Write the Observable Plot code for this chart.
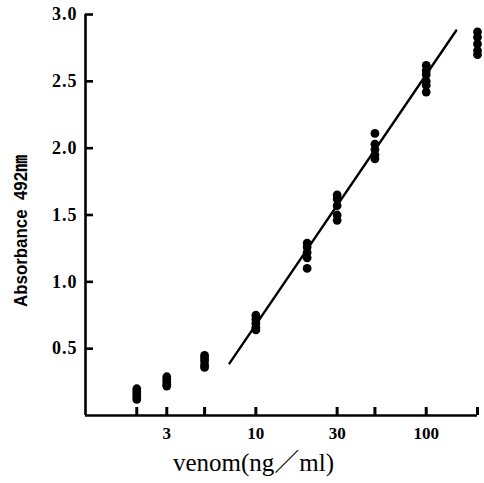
<!DOCTYPE html>
<html>
<head>
<meta charset="utf-8">
<script src="https://cdn.jsdelivr.net/npm/d3@7"></script>
<script src="https://cdn.jsdelivr.net/npm/@observablehq/plot@0.6"></script>
<style>
  html, body { margin: 0; padding: 0; background: #fff; }
  #chart svg { display: block; }
  .ticklab text { letter-spacing: 1px; }
</style>
</head>
<body>
<div id="chart"></div>
<script>
// venom concentration (ng/ml) for each replicate group
const concentrations = [2, 3, 5, 10, 20, 30, 50, 100, 200];
// absorbance readings at 492 nm, one list per concentration
const readings = [
  [0.20, 0.18, 0.16, 0.14, 0.12],
  [0.29, 0.27, 0.25, 0.23, 0.22],
  [0.45, 0.43, 0.41, 0.38, 0.36],
  [0.75, 0.72, 0.69, 0.66, 0.64],
  [1.29, 1.26, 1.22, 1.18, 1.10],
  [1.65, 1.62, 1.57, 1.50, 1.46],
  [2.11, 2.03, 1.99, 1.95, 1.92],
  [2.62, 2.58, 2.55, 2.50, 2.47, 2.42],
  [2.87, 2.83, 2.78, 2.73, 2.70]
];
// fitted standard line end points
const fitConc = [7, 150];
const fitAbs = [0.39, 2.88];
// axis ticks
const xTicks = [2, 3, 5, 10, 30, 50, 100, 200];
const xLabels = [3, 10, 30, 100];
const yTicks = [0.5, 1.0, 1.5, 2.0, 2.5, 3.0];
const xTitle = "venom(ng／ml)";
const yTitle = "Absorbance  492㎚";

const points = concentrations.flatMap((c, i) => readings[i].map(a => ({conc: c, abs: a})));
const fitLine = fitConc.map((c, i) => ({conc: c, abs: fitAbs[i]}));

const W = 484, H = 483, mL = 85, mR = 7, mT = 14, mB = 68;
const xTickLen = 8, yTickLen = 8;
const tickFont = "'Liberation Serif', serif";

const chart = Plot.plot({
  width: W,
  height: H,
  marginLeft: mL,
  marginRight: mR,
  marginTop: mT,
  marginBottom: mB,
  x: {type: "log", domain: [1, 200]},
  y: {domain: [0, 3]},
  style: {background: "#fff", color: "#000"},
  marks: [
    Plot.ruleX([1], {stroke: "#000", strokeWidth: 2.6}),
    Plot.ruleY([0], {stroke: "#000", strokeWidth: 2.4}),
    // short inward tick marks
    Plot.ruleX(xTicks, {x: d => d, insetTop: (H - mT - mB) - xTickLen, stroke: "#000", strokeWidth: 3}),
    Plot.ruleY(yTicks, {y: d => d, insetRight: (W - mL - mR) - yTickLen, stroke: "#000", strokeWidth: 2.6}),
    Plot.axisX({ticks: xLabels, tickSize: 0, tickPadding: 11, tickFormat: d => String(d), label: null,
      fontSize: 17, fontWeight: "bold", fontFamily: tickFont}),
    Plot.axisY({ticks: yTicks, tickSize: 0, tickPadding: 8, tickFormat: d3.format(".1f"), label: null,
      fontSize: 18, fontWeight: "bold", fontFamily: tickFont, className: "ticklab"}),
    Plot.line(fitLine, {x: "conc", y: "abs", stroke: "#000", strokeWidth: 2.4}),
    Plot.dot(points, {x: "conc", y: "abs", r: 4.4, fill: "#000", stroke: "none"}),
    Plot.text([xTitle], {frameAnchor: "bottom", textAnchor: "middle", lineAnchor: "middle", dx: -28, dy: 47,
      fontSize: 25, fontFamily: "'Liberation Serif', 'Noto Sans CJK JP', serif", fill: "#000"}),
    Plot.text([yTitle], {frameAnchor: "left", textAnchor: "middle", lineAnchor: "middle", rotate: -90,
      dx: -65, dy: 16, fontSize: 19, fontWeight: "bold",
      fontFamily: "'Liberation Sans', 'Noto Sans CJK JP', sans-serif", fill: "#000",
      className: "ytitle"})
  ]
});
// condense the y title like the original's narrow type
chart.querySelectorAll(".ytitle text").forEach(t => {
  t.setAttribute("textLength", "152");
  t.setAttribute("lengthAdjust", "spacingAndGlyphs");
});
document.getElementById("chart").appendChild(chart);
</script>
</body>
</html>
